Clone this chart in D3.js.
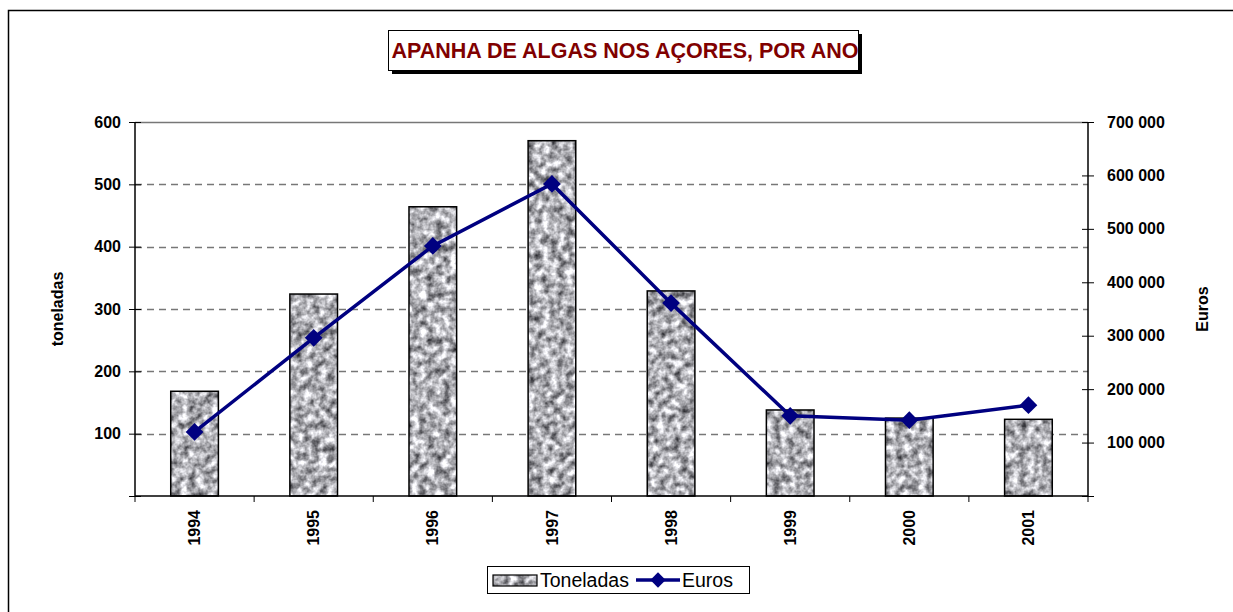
<!DOCTYPE html>
<html>
<head>
<meta charset="utf-8">
<script src="https://cdn.jsdelivr.net/npm/d3@7"></script>
<style>
    body { margin: 0; background: #fff; font-family: Arial, "Liberation Sans", sans-serif; }
</style>
</head>
<body>
<div id="chart"></div>
<script>
// Data
const years = ["1994", "1995", "1996", "1997", "1998", "1999", "2000", "2001"];
const toneladas = [168, 324, 464, 570, 329, 138, 125, 123];
const euros = [120000, 296000, 468000, 584000, 361000, 150000, 142000, 170000];
const leftTicks = [100, 200, 300, 400, 500, 600];
const rightTicks = [100000, 200000, 300000, 400000, 500000, 600000, 700000];

const W = 1233, H = 612;
const margin = { top: 122, right: 145, bottom: 116, left: 135 };
const width = W - margin.left - margin.right;
const height = H - margin.top - margin.bottom;
const font = "Arial, 'Liberation Sans', sans-serif";

const svg = d3.select("#chart").append("svg")
    .attr("width", W)
    .attr("height", H)
    .style("font-family", font);

// granite texture for the bars
const defs = svg.append("defs");
const filt = defs.append("filter").attr("id", "granite")
    .attr("x", 0).attr("y", 0).attr("width", 1).attr("height", 1)
    .attr("color-interpolation-filters", "sRGB");
filt.append("feTurbulence")
    .attr("type", "fractalNoise")
    .attr("baseFrequency", 0.13)
    .attr("numOctaves", 3)
    .attr("seed", 4)
    .attr("result", "noise");
filt.append("feColorMatrix")
    .attr("in", "noise")
    .attr("type", "matrix")
    .attr("values", "1.3 0 0 0 0.04  1.3 0 0 0 0.04  1.3 0 0 0 0.06  0 0 0 0 1")
    .attr("result", "gray");
filt.append("feComposite")
    .attr("in", "gray")
    .attr("in2", "SourceGraphic")
    .attr("operator", "in");

// outer frame
svg.append("rect")
    .attr("x", 8.5).attr("y", 10.5)
    .attr("width", W).attr("height", H)
    .attr("fill", "none")
    .attr("stroke", "#000")
    .attr("stroke-width", 1.5);

const g = svg.append("g").attr("transform", `translate(${margin.left},${margin.top})`);

const x = d3.scaleBand().domain(years).range([0, width]);
const yL = d3.scaleLinear().domain([0, 600]).range([height, 0]);
const yR = d3.scaleLinear().domain([0, 700000]).range([height, 0]);

// gridlines
g.selectAll(".grid")
    .data(leftTicks)
    .enter().append("line")
    .attr("x1", 0).attr("x2", width)
    .attr("y1", d => Math.round(yL(d)) + 0.5)
    .attr("y2", d => Math.round(yL(d)) + 0.5)
    .attr("stroke", "#777")
    .attr("stroke-width", 1.3)
    .attr("stroke-dasharray", d => d === 600 ? null : "7,5");

// bars
const bw = x.bandwidth() * 0.4;
g.selectAll(".barfill")
    .data(toneladas)
    .enter().append("rect")
    .attr("x", (d, i) => x(years[i]) + (x.bandwidth() - bw) / 2)
    .attr("y", d => yL(d))
    .attr("width", bw)
    .attr("height", d => height - yL(d))
    .attr("fill", "#999")
    .attr("filter", "url(#granite)");
g.selectAll(".barline")
    .data(toneladas)
    .enter().append("rect")
    .attr("x", (d, i) => x(years[i]) + (x.bandwidth() - bw) / 2)
    .attr("y", d => yL(d))
    .attr("width", bw)
    .attr("height", d => height - yL(d))
    .attr("fill", "none")
    .attr("stroke", "#000")
    .attr("stroke-width", 1.5);

// axes
const fmtSpace = d => d3.format(",")(d).replace(/,/g, " ");

const axL = g.append("g")
    .call(d3.axisLeft(yL).tickValues([0].concat(leftTicks)).tickSize(6).tickPadding(8)
        .tickFormat(d => d === 0 ? "" : d));
const axR = g.append("g")
    .attr("transform", `translate(${width},0)`)
    .call(d3.axisRight(yR).tickValues([0].concat(rightTicks)).tickSize(6).tickPadding(13)
        .tickFormat(d => d === 0 ? "" : fmtSpace(d)));
axL.selectAll(".tick line").attr("x1", 6).attr("x2", -6);
axR.selectAll(".tick line").attr("x1", -6).attr("x2", 6);

const axB = g.append("g")
    .attr("transform", `translate(0,${height})`)
    .call(d3.axisBottom(x).tickSize(0).tickPadding(0));
axB.selectAll(".tick text")
    .attr("transform", "rotate(-90)")
    .attr("x", -14)
    .attr("y", 0)
    .attr("dy", "0.35em")
    .style("text-anchor", "end");
// category separators on the x axis
axB.selectAll(".sep")
    .data(d3.range(years.length + 1))
    .enter().append("line")
    .attr("x1", i => i * x.step()).attr("x2", i => i * x.step())
    .attr("y1", 0).attr("y2", 6)
    .attr("stroke", "#000");

[axL, axR, axB].forEach(ax => {
    ax.select(".domain").attr("stroke", "#000").attr("stroke-width", 1.5);
    ax.selectAll(".tick line").attr("stroke", "#000");
    ax.selectAll("text")
        .attr("fill", "#000")
        .style("font-family", font)
        .style("font-size", "16px")
        .style("font-weight", "bold");
});
axR.select(".domain").attr("d", `M0,0V${height}`);
axL.select(".domain").attr("d", `M0,0V${height}`);
axB.select(".domain").attr("d", `M0,0H${width}`);

// euros line
const line = d3.line()
    .x((d, i) => x(years[i]) + x.bandwidth() / 2)
    .y(d => yR(d));
g.append("path")
    .datum(euros)
    .attr("fill", "none")
    .attr("stroke", "#000080")
    .attr("stroke-width", 3.5)
    .attr("d", line);
g.selectAll(".pt")
    .data(euros)
    .enter().append("path")
    .attr("d", d3.symbol(d3.symbolDiamond2, 200)())
    .attr("transform", (d, i) => `translate(${x(years[i]) + x.bandwidth() / 2},${yR(d)})`)
    .attr("fill", "#000080");

// axis titles
svg.append("text")
    .attr("transform", `translate(63,${margin.top + height / 2}) rotate(-90)`)
    .attr("text-anchor", "middle")
    .style("font-size", "16px").style("font-weight", "bold")
    .text("toneladas");
svg.append("text")
    .attr("transform", `translate(1208,${margin.top + height / 2}) rotate(-90)`)
    .attr("text-anchor", "middle")
    .style("font-size", "16px").style("font-weight", "bold")
    .text("Euros");

// title box with shadow
svg.append("rect")
    .attr("x", 392).attr("y", 34).attr("width", 470).attr("height", 40)
    .attr("fill", "#000");
svg.append("rect")
    .attr("x", 388.5).attr("y", 30.5).attr("width", 470).attr("height", 40)
    .attr("fill", "#fff").attr("stroke", "#000").attr("stroke-width", 1);
svg.append("text")
    .attr("x", 625).attr("y", 58)
    .attr("text-anchor", "middle")
    .attr("fill", "#800000")
    .style("font-size", "21.5px").style("font-weight", "bold")
    .text("APANHA DE ALGAS NOS AÇORES, POR ANO");

// legend
const lg = svg.append("g").attr("transform", "translate(487,566)");
lg.append("rect").attr("x", 0.5).attr("y", 0.5).attr("width", 262).attr("height", 27)
    .attr("fill", "#fff").attr("stroke", "#000");
lg.append("rect").attr("x", 6).attr("y", 9).attr("width", 44).attr("height", 11)
    .attr("fill", "#999").attr("filter", "url(#granite)");
lg.append("rect").attr("x", 6).attr("y", 9).attr("width", 44).attr("height", 11)
    .attr("fill", "none").attr("stroke", "#000").attr("stroke-width", 1.2);
lg.append("text").attr("x", 53).attr("y", 21)
    .style("font-size", "19.5px").text("Toneladas");
lg.append("line").attr("x1", 149).attr("x2", 193).attr("y1", 14).attr("y2", 14)
    .attr("stroke", "#000080").attr("stroke-width", 3.5);
lg.append("path")
    .attr("d", d3.symbol(d3.symbolDiamond2, 150)())
    .attr("transform", "translate(171,14)")
    .attr("fill", "#000080");
lg.append("text").attr("x", 195).attr("y", 21)
    .style("font-size", "19.5px").text("Euros");
</script>
</body>
</html>
